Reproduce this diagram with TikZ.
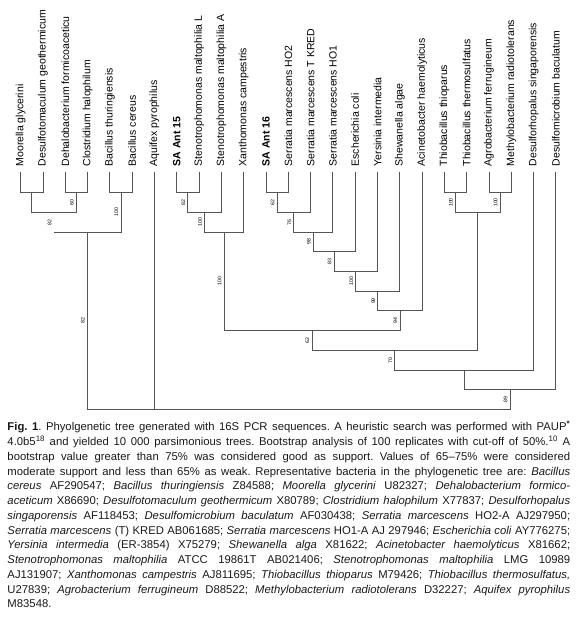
\documentclass[tikz,border=0pt]{standalone}
\usepackage{fontspec}
\setmainfont{Liberation Sans}
\definecolor{treeGray}{RGB}{85,85,85}
\definecolor{capText}{RGB}{25,25,25}
\tikzset{
    branch/.style={draw=treeGray, line width=0.9pt},
    taxon/.style={rotate=90, anchor=west, inner sep=0pt, font=\fontsize{10.5}{12}\selectfont},
    boot/.style={rotate=90, anchor=south, inner sep=2.6pt, font=\fontsize{5.2}{6}\selectfont},
    capt/.style={anchor=north west, inner sep=0pt, text width=562.7pt, align=justify,
                 font=\fontsize{11.3}{14.75}\selectfont, text=capText}
}

\begin{document}
\begin{tikzpicture}[x=22.3pt, y=-19.7pt]
    \useasboundingbox (-0.928,-9.782) rectangle (24.857,21.741);
    % leaves: tip of branch + rotated name
    \foreach \nm/\lab [count=\i from 0] in {moo/Moorella glycerini, dge/Desulfotomaculum geothermicum,
        dfo/Dehalobacterium formicoaceticu, cha/Clostridium halophilum, bth/Bacillus thuringiensis,
        bce/Bacillus cereus, aqu/Aquifex pyrophilus, sa15/\textbf{SA Ant 15},
        stl/Stenotrophomonas maltophilia L, sta/Stenotrophomonas maltophilia A, xca/Xanthomonas campestris,
        sa16/\textbf{SA Ant 16}, ho2/Serratia marcescens HO2, tkr/Serratia marcescens T KRED,
        ho1/Serratia marcescens HO1, eco/Escherichia coli, yin/Yersinia intermedia, sal/Shewanella algae,
        aha/Acinetobacter haemolyticus, tti/Thiobacillus thioparus, tte/Thiobacillus thermosulfatus,
        afe/Agrobacterium ferrugineum, mra/Methylobacterium radiotolerans,
        dsi/Desulforhopalus singaporensis, dba/Desulfomicrobium baculatum} {
        \coordinate (\nm) at (\i,-1.03);
        \node[taxon] (\nm-lab) at (\i,-1.33) {\lab};
    }
    % internal nodes (stem x, bar level)
    \coordinate (nA) at (0.5,0);
    \coordinate (nB) at (2.5,0);
    \coordinate (nC) at (1.5,1);
    \coordinate (nD) at (4.5,0);
    \coordinate (nE) at (3,2);
    \coordinate (nF) at (7.5,0);
    \coordinate (nG) at (8.25,1);
    \coordinate (nH) at (9.125,2);
    \coordinate (nI) at (11.5,0);
    \coordinate (nJ) at (12.25,1);
    \coordinate (nK) at (13.125,2);
    \coordinate (nL) at (14.0625,3);
    \coordinate (nM) at (15.03,4);
    \coordinate (nN) at (16.016,5);
    \coordinate (nO) at (17.008,6);
    \coordinate (nP) at (13.066,7);
    \coordinate (nQ) at (19.5,0);
    \coordinate (nR) at (21.5,0);
    \coordinate (nS) at (20.5,1);
    \coordinate (nT) at (16.78,8);
    \coordinate (nU) at (19.89,9);
    \coordinate (nV) at (21.95,10);
    \coordinate (root) at (6,11);
    % branches
    \draw[branch] (nA) -| (moo) (nA) -| (dge);
    \draw[branch] (nB) -| (dfo) (nB) -| (cha);
    \draw[branch] (nC) -| (nA) (nC) -| (nB);
    \draw[branch] (nD) -| (bth) (nD) -| (bce);
    \draw[branch] (nE) -| (nD) (nE) -- (nE -| nC);
    \draw[branch] (nF) -| (sa15) (nF) -| (stl);
    \draw[branch] (nG) -| (nF) (nG) -| (sta);
    \draw[branch] (nH) -| (nG) (nH) -| (xca);
    \draw[branch] (nI) -| (sa16) (nI) -| (ho2);
    \draw[branch] (nJ) -| (nI) (nJ) -| (tkr);
    \draw[branch] (nK) -| (nJ) (nK) -| (ho1);
    \draw[branch] (nL) -| (nK) (nL) -| (eco);
    \draw[branch] (nM) -| (nL) (nM) -| (yin);
    \draw[branch] (nN) -| (nM) (nN) -| (sal);
    \draw[branch] (nO) -| (nN) (nO) -| (aha);
    \draw[branch] (nP) -| (nH) (nP) -| (nO);
    \draw[branch] (nQ) -| (tti) (nQ) -| (tte);
    \draw[branch] (nR) -| (afe) (nR) -| (mra);
    \draw[branch] (nS) -| (nQ) (nS) -| (nR);
    \draw[branch] (nT) -| (nP) (nT) -| (nS);
    \draw[branch] (nU) -| (nT) (nU) -| (dsi);
    \draw[branch] (nV) -| (nU) (nV) -| (dba);
    \draw[branch] (root) -| (nE) (root) -- (aqu) (root) -| (nV);
    % bootstrap values
    \node[boot] (bB) at (2.5,0.5) {60};
    \node[boot] (bC) at (1.5,1.5) {82};
    \node[boot] (bD) at (4.5,1) {100};
    \node[boot] (bE) at (3,6.5) {82};
    \node[boot] (bF) at (7.5,0.5) {82};
    \node[boot] (bG) at (8.25,1.5) {100};
    \node[boot] (bH) at (9.125,4.5) {100};
    \node[boot] (bI) at (11.5,0.5) {62};
    \node[boot] (bJ) at (12.25,1.5) {76};
    \node[boot] (bK) at (13.125,2.5) {98};
    \node[boot] (bL) at (14.0625,3.5) {83};
    \node[boot] (bM) at (15.03,4.5) {100};
    \node[boot] (bN) at (16.016,5.5) {99};
    \node[boot] (bO) at (17.008,6.5) {94};
    \node[boot] (bP) at (13.066,7.5) {62};
    \node[boot] (bQ) at (19.5,0.5) {100};
    \node[boot] (bR) at (21.5,0.5) {100};
    \node[boot] (bT) at (16.78,8.5) {70};
    \node[boot] (bV) at (21.95,10.5) {89};
    % caption
    \node[capt] (caption) at (-0.601,11.60) {\hyphenpenalty=10000 \frenchspacing
\textbf{Fig. 1}. Phyolgenetic tree generated with 16S PCR sequences. A heuristic search was performed with PAUP\textsuperscript{\textbf{*}}\linebreak
4.0b5\textsuperscript{18} and yielded 10~000 parsimonious trees. Bootstrap analysis of 100 replicates with cut-off of 50\%.\textsuperscript{10} A\linebreak
bootstrap value greater than 75\% was considered good as support. Values of 65--75\% were considered\linebreak
moderate support and less than 65\% as weak. Representative bacteria in the phylogenetic tree are: \textit{Bacillus}\linebreak
\textit{cereus} AF290547; \textit{Bacillus thuringiensis} Z84588; \textit{Moorella glycerini} U82327; \textit{Dehalobacterium formico-}\linebreak
\textit{aceticum} X86690; \textit{Desulfotomaculum geothermicum} X80789; \textit{Clostridium halophilum} X77837; \textit{Desulforhopalus}\linebreak
\textit{singaporensis} AF118453; \textit{Desulfomicrobium baculatum} AF030438; \textit{Serratia marcescens} HO2-A AJ297950;\linebreak
\textit{Serratia marcescens} (T) KRED AB061685; \textit{Serratia marcescens} HO1-A AJ 297946; \textit{Escherichia coli} AY776275;\linebreak
\textit{Yersinia intermedia} (ER-3854) X75279; \textit{Shewanella alga} X81622; \textit{Acinetobacter haemolyticus} X81662;\linebreak
\textit{Stenotrophomonas maltophilia} ATCC 19861T AB021406; \textit{Stenotrophomonas maltophilia} LMG 10989\linebreak
AJ131907; \textit{Xanthomonas campestris} AJ811695; \textit{Thiobacillus thioparus} M79426; \textit{Thiobacillus thermosulfatus,}\linebreak
U27839; \textit{Agrobacterium ferrugineum} D88522; \textit{Methylobacterium radiotolerans} D32227; \textit{Aquifex pyrophilus}\linebreak
M83548.};
\end{tikzpicture}
\end{document}
